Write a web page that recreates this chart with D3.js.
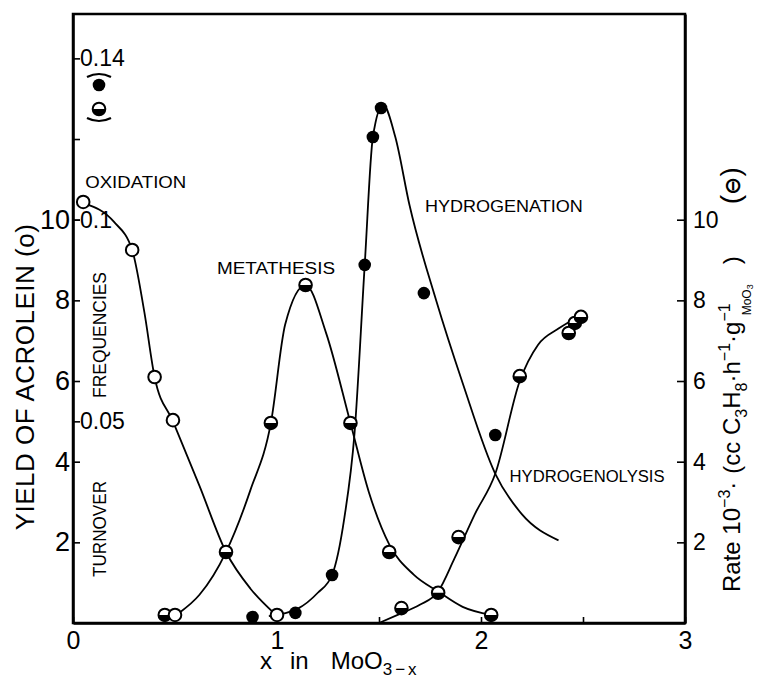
<!DOCTYPE html>
<html>
<head>
<meta charset="utf-8">
<script src="https://cdn.jsdelivr.net/npm/d3@7"></script>
<style>
  body { margin: 0; background: #fff; }
  svg { display: block; font-family: 'Liberation Sans', Arial, sans-serif; }
</style>
</head>
<body>
<script>
const outerWidth = 759
const outerHeight = 681
const margins = { top: 14, right: 74, bottom: 58, left: 73 }
const yMax = 15.1

// measured points (x in MoO3-x, yield / rate)
const oxidationPts = [[0.05, 10.44], [0.29, 9.25], [0.40, 6.1], [0.49, 5.03], [0.50, 0.2], [1.0, 0.2]]
const metathesisPts = [[0.45, 0.2], [0.75, 1.76], [0.97, 4.96], [1.14, 8.38], [1.36, 4.96], [1.55, 1.76], [1.79, 0.75], [2.05, 0.2]]
const hydrogenationPts = [[0.88, 0.15], [1.09, 0.25], [1.27, 1.19], [1.43, 8.88], [1.47, 12.05], [1.51, 12.77], [1.72, 8.18], [2.07, 4.66]]
const hydrogenolysisPts = [[1.61, 0.37], [1.89, 2.13], [2.19, 6.12], [2.43, 7.19], [2.46, 7.44], [2.49, 7.59]]

// hand drawn curves
const oxidationCurve = [[0.06, 10.4], [0.2, 9.95], [0.29, 9.25], [0.35, 7.7], [0.40, 6.1], [0.49, 5.0], [0.62, 3.4], [0.75, 1.76], [0.87, 0.85], [0.98, 0.27]]
const metathesisCurve = [[0.52, 0.25], [0.62, 0.7], [0.75, 1.76], [0.87, 3.3], [0.97, 4.96], [1.04, 7.4], [1.14, 8.38], [1.24, 7.2], [1.36, 4.96], [1.45, 3.25], [1.55, 1.95], [1.67, 1.2], [1.79, 0.78], [1.91, 0.4], [2.05, 0.2]]
const hydrogenationCurve = [[0.96, 0.17], [1.1, 0.35], [1.2, 0.75], [1.27, 1.19], [1.33, 2.6], [1.38, 4.7], [1.43, 8.88], [1.47, 12.05], [1.52, 12.85], [1.58, 12.05], [1.65, 10.35], [1.78, 8.0], [1.91, 5.95], [2.07, 3.7], [2.2, 2.7], [2.38, 2.05]]
const hydrogenolysisCurve = [[1.5, 0.0], [1.6, 0.22], [1.7, 0.45], [1.79, 0.78], [1.87, 1.6], [1.97, 2.7], [2.07, 3.7], [2.19, 6.0], [2.28, 6.9], [2.38, 7.3], [2.5, 7.65]]

const xTicks = [0, 0.5, 1, 1.5, 2, 2.5, 3]
const yieldTicks = [2, 4, 6, 8, 10, 12]
const rateTicks = [2, 4, 6, 8, 10]
const tofTicks = [0.05, 0.1, 0.14]

const processLabels = [
  { text: 'OXIDATION', x: 0.06, y: 10.79, len: 101 },
  { text: 'METATHESIS', x: 0.706, y: 8.65, len: 118 },
  { text: 'HYDROGENATION', x: 1.725, y: 10.19, len: 158 },
  { text: 'HYDROGENOLYSIS', x: 2.14, y: 3.5, len: 155 }
]

const svg = d3.select('body').append('svg')
  .attr('width', outerWidth)
  .attr('height', outerHeight)

const xScale = d3.scaleLinear().domain([0, 3])
  .range([margins.left, outerWidth - margins.right])
const yScale = d3.scaleLinear().domain([0, yMax])
  .range([outerHeight - margins.bottom, margins.top])
const tofScale = d3.scaleLinear().domain([0, yMax / 100]).range(yScale.range())

const x = d => xScale(d[0])
const y = d => yScale(d[1])

// frame
svg.append('rect')
  .attr('x', xScale(0)).attr('y', yScale(yMax))
  .attr('width', xScale(3) - xScale(0))
  .attr('height', yScale(0) - yScale(yMax))
  .attr('fill', 'none').attr('stroke', '#000').attr('stroke-width', 2.5)

const styleAxis = (g, size) => {
  g.select('.domain').attr('stroke-width', 2.5)
  g.selectAll('.tick line').attr('stroke-width', 1.6)
  g.selectAll('.tick text').attr('font-size', size).attr('fill', '#000')
    .attr('font-family', 'Liberation Sans, Arial, sans-serif')
}

svg.append('g')
  .attr('transform', `translate(0,${yScale(0)})`)
  .call(d3.axisBottom(xScale).tickValues(xTicks)
    .tickFormat(d => Number.isInteger(d) ? d : '')
    .tickSizeInner(-6).tickSizeOuter(0).tickPadding(8))
  .call(g => styleAxis(g, 25))

svg.append('g')
  .attr('transform', `translate(${margins.left},0)`)
  .call(d3.axisLeft(yScale).tickValues(yieldTicks)
    .tickFormat(d => d === 12 ? '' : d)
    .tickSizeInner(-7).tickSizeOuter(0).tickPadding(3))
  .call(g => styleAxis(g, 27))

svg.append('g')
  .attr('transform', `translate(${margins.left},0)`)
  .call(d3.axisRight(tofScale).tickValues(tofTicks)
    .tickFormat(d => d)
    .tickSizeInner(7).tickSizeOuter(0).tickPadding(0))
  .call(g => styleAxis(g, 23))
  .call(g => g.select('.domain').remove())

svg.append('g')
  .attr('transform', `translate(${xScale(3)},0)`)
  .call(d3.axisRight(yScale).tickValues(rateTicks)
    .tickSizeInner(-8).tickSizeOuter(0).tickPadding(8))
  .call(g => styleAxis(g, 23))

// curves
const line = d3.line().x(x).y(y).curve(d3.curveMonotoneX)
const curves = [oxidationCurve, metathesisCurve, hydrogenationCurve, hydrogenolysisCurve]
svg.append('g').selectAll('path').data(curves).enter().append('path')
  .attr('d', line)
  .attr('fill', 'none').attr('stroke', '#000').attr('stroke-width', 1.8)

// markers
const r = 6.3
const lowerHalf = d3.arc().innerRadius(0).outerRadius(r)
  .startAngle(Math.PI / 2).endAngle(Math.PI * 3 / 2)

const drawHalf = (sel) => {
  sel.append('circle').attr('r', r).attr('fill', '#fff')
    .attr('stroke', '#000').attr('stroke-width', 2)
  sel.append('path').attr('d', lowerHalf()).attr('fill', '#000')
}

const halfPts = metathesisPts.concat(hydrogenolysisPts)
svg.append('g').selectAll('g').data(halfPts).enter().append('g')
  .attr('transform', d => `translate(${x(d)},${y(d)})`)
  .call(drawHalf)

svg.append('g').selectAll('circle').data(oxidationPts).enter().append('circle')
  .attr('cx', x).attr('cy', y).attr('r', r)
  .attr('fill', '#fff').attr('stroke', '#000').attr('stroke-width', 2)

svg.append('g').selectAll('circle').data(hydrogenationPts).enter().append('circle')
  .attr('cx', x).attr('cy', y).attr('r', r).attr('fill', '#000')

// process labels
svg.append('g').selectAll('text').data(processLabels).enter().append('text')
  .attr('x', d => xScale(d.x)).attr('y', d => yScale(d.y))
  .attr('textLength', d => d.len).attr('lengthAdjust', 'spacingAndGlyphs')
  .attr('font-size', 16).text(d => d.text)

// rotated inner labels
const inner = [
  { text: 'TURNOVER', y: 577, len: 96 },
  { text: 'FREQUENCIES', y: 398, len: 126 }
]
svg.append('g').selectAll('text').data(inner).enter().append('text')
  .attr('transform', d => `translate(106,${d.y}) rotate(-90)`)
  .attr('textLength', d => d.len).attr('lengthAdjust', 'spacingAndGlyphs')
  .attr('font-size', 19).text(d => d.text)

// legend for the right-hand symbols
const legend = svg.append('g').attr('transform', 'translate(99,97)')
legend.append('circle').attr('cy', -12).attr('r', r).attr('fill', '#000')
legend.append('g').attr('transform', 'translate(0,12)').call(drawHalf)
legend.append('path').attr('d', 'M-12,-20 Q0,-26 12,-20')
  .attr('fill', 'none').attr('stroke', '#000').attr('stroke-width', 2.2)
legend.append('path').attr('d', 'M-12,21 Q0,27 12,21')
  .attr('fill', 'none').attr('stroke', '#000').attr('stroke-width', 2.2)

// axis titles
svg.append('text')
  .attr('transform', 'translate(34,377) rotate(-90)')
  .attr('text-anchor', 'middle')
  .attr('font-size', 26).attr('letter-spacing', 0.5)
  .text('YIELD OF ACROLEIN (o)')

const xTitle = svg.append('text')
  .attr('x', 260).attr('y', 669)
  .attr('font-size', 24)
xTitle.append('tspan').text('x')
xTitle.append('tspan').attr('dx', 18).text('in')
xTitle.append('tspan').attr('dx', 22).text('MoO')
xTitle.append('tspan').attr('dy', 6).attr('font-size', 17)
  .attr('letter-spacing', 3).text('3−x')

const rTitle = svg.append('text')
  .attr('transform', `translate(740,592) rotate(-90)`)
  .attr('font-size', 24)
rTitle.append('tspan').text('Rate 10')
rTitle.append('tspan').attr('dy', -10).attr('font-size', 16).text('−3')
rTitle.append('tspan').attr('dy', 10).text('·')
rTitle.append('tspan').attr('dx', 8).text('(cc C')
rTitle.append('tspan').attr('dy', 7).attr('font-size', 16).text('3')
rTitle.append('tspan').attr('dy', -7).text('H')
rTitle.append('tspan').attr('dy', 7).attr('font-size', 16).text('8')
rTitle.append('tspan').attr('dy', -7).text('·h')
rTitle.append('tspan').attr('dy', -10).attr('font-size', 16).text('−1')
rTitle.append('tspan').attr('dy', 10).text('·g')
rTitle.append('tspan').attr('dy', -10).attr('font-size', 16).text('−1')
rTitle.append('tspan').attr('dy', 21).attr('dx', -12).attr('font-size', 12).text('MoO')
rTitle.append('tspan').attr('dy', 2).attr('font-size', 9).text('3')
rTitle.append('tspan').attr('dy', -13).attr('dx', 20).text(')')
rTitle.append('tspan').attr('dx', 52).attr('font-size', 28).text('(')
rTitle.append('tspan').attr('font-family', 'DejaVu Sans').attr('font-weight', 'bold')
  .attr('font-size', 22).text('⊖')
rTitle.append('tspan').attr('font-size', 28).text(')')
</script>
</body>
</html>
